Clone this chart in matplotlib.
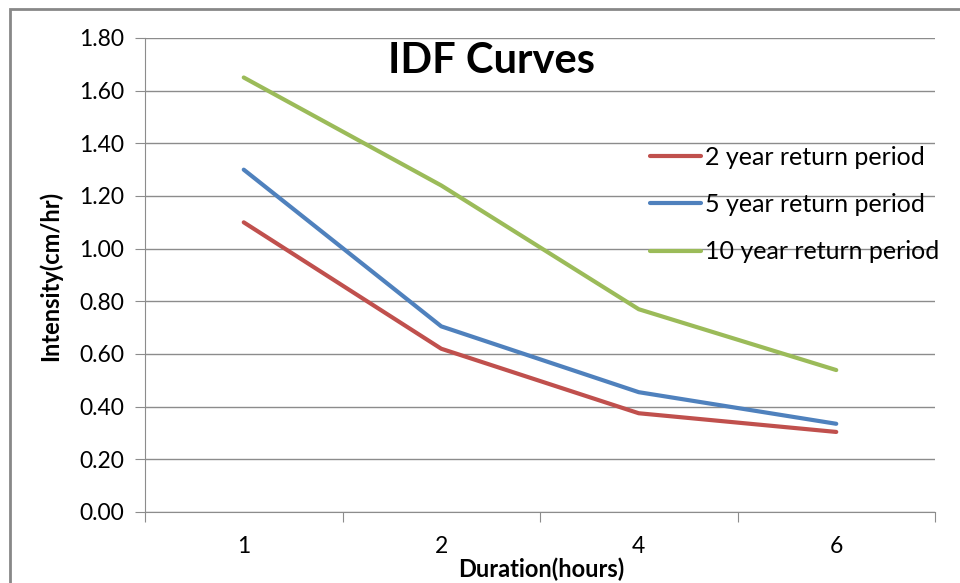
import numpy as np
import matplotlib
matplotlib.use("Agg")
import matplotlib.pyplot as plt
from matplotlib.patches import Rectangle

durations = ["1", "2", "4", "6"]
ret_2yr = [1.10, 0.62, 0.375, 0.304]
ret_5yr = [1.30, 0.705, 0.455, 0.335]
ret_10yr = [1.65, 1.24, 0.77, 0.539]
series_names = ["2 year return period", "5 year return period", "10 year return period"]
colors = ["#C0504D", "#4F81BD", "#9BBB59"]

plt.rcParams['font.family'] = ['Lato', 'DejaVu Sans']

fig = plt.figure(figsize=(9.6, 5.83), dpi=100)
# outer chart frame
fig.patches.append(Rectangle((10 / 960, -0.1), 1.1, 1 - 9 / 583 + 0.1, transform=fig.transFigure,
                             fill=False, edgecolor="#888888", linewidth=2))

ax = fig.add_axes([145 / 960, 1 - 512 / 583, 790 / 960, 474 / 583])
x = np.arange(len(durations))
for vals, name, c in zip([ret_2yr, ret_5yr, ret_10yr], series_names, colors):
    ax.plot(x, vals, color=c, linewidth=3, label=name, solid_capstyle="round")

ax.set_xlim(-0.5, len(durations) - 0.5)
ax.set_ylim(0, 1.8)
ax.set_yticks(np.arange(0, 1.81, 0.2))
ax.set_yticklabels([f"{v:.2f}" for v in np.arange(0, 1.81, 0.2)])
ax.yaxis.grid(True, color="#8c8c8c", linewidth=1)
ax.set_axisbelow(True)

ax.set_xticks(np.arange(-0.5, len(durations), 1.0))
ax.set_xticklabels([])
ax.set_xticks(x, minor=True)
ax.set_xticklabels(durations, minor=True)
ax.tick_params(axis="x", which="minor", length=0, pad=17, labelsize=16.5)
ax.tick_params(axis="x", which="major", length=7, color="#8c8c8c", direction="out")
ax.tick_params(axis="y", length=7, color="#8c8c8c", labelsize=16.5, pad=8)

for s in ["top", "right"]:
    ax.spines[s].set_visible(False)
for s in ["left", "bottom"]:
    ax.spines[s].set_color("#8c8c8c")

fig.text(491 / 960, 1 - 61 / 583, "IDF Curves", ha="center", va="center",
         fontsize=30, fontweight="bold")
fig.text(50 / 960, 1 - 276 / 583, "Intensity(cm/hr)", rotation=90, ha="center", va="center",
         fontsize=17, fontweight="bold")
fig.text(541 / 960, 1 - 569 / 583, "Duration(hours)", ha="center", va="center",
         fontsize=17, fontweight="bold")

ax.legend(loc="upper left", bbox_to_anchor=(650 / 960, 1 - 146 / 583), bbox_transform=fig.transFigure,
          frameon=False, fontsize=18, handlelength=2.05, handletextpad=0.15, labelspacing=0.97,
          borderaxespad=0, borderpad=0)

fig.savefig("out.png", dpi=100)
